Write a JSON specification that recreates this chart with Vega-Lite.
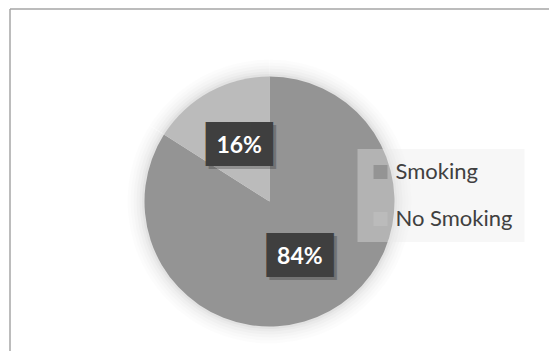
{
  "$schema": "https://vega.github.io/schema/vega-lite/v6.json",
  "width": 520,
  "height": 386,
  "autosize": {"type": "none"},
  "padding": {"left": 9.5, "top": 8.5, "right": 25, "bottom": 0},
  "background": "white",
  "config": {
    "view": {"stroke": "transparent", "strokeWidth": 0},
    "axis": {"domainColor": "#a6a6a6", "domainWidth": 1.5, "ticks": false, "labels": false, "grid": false, "title": null}
  },
  "data": {
    "values": [
      {"category": "Smoking", "share": 0.84, "ord": 1},
      {"category": "No Smoking", "share": 0.16, "ord": 2}
    ]
  },
  "layer": [
    {
      "mark": {"type": "point", "opacity": 0},
      "encoding": {
        "x": {"datum": 0, "type": "quantitative", "scale": {"domain": [0, 1], "range": [0, 545]}, "axis": {"orient": "top"}},
        "y": {"datum": 0, "type": "quantitative", "scale": {"domain": [0, 1]}, "axis": {"orient": "left"}}
      }
    },
    {
      "encoding": {
        "theta": {"field": "share", "type": "quantitative", "stack": true},
        "order": {"field": "ord", "type": "quantitative"}
      },
      "layer": [
        {"mark": {"type": "arc", "outerRadius": 142, "fill": "#000", "opacity": 0.01}},
        {"mark": {"type": "arc", "outerRadius": 139, "fill": "#000", "opacity": 0.012}},
        {"mark": {"type": "arc", "outerRadius": 136, "fill": "#000", "opacity": 0.015}},
        {"mark": {"type": "arc", "outerRadius": 133, "fill": "#000", "opacity": 0.02}},
        {"mark": {"type": "arc", "outerRadius": 130, "fill": "#000", "opacity": 0.025}},
        {"mark": {"type": "arc", "outerRadius": 127.5, "fill": "#000", "opacity": 0.03}},
        {
          "mark": {"type": "arc", "outerRadius": 125},
          "encoding": {
            "color": {
              "field": "category",
              "type": "nominal",
              "scale": {"domain": ["Smoking", "No Smoking"], "range": ["#949494", "#bbbbbb"]},
              "legend": {
                "title": null,
                "orient": "none",
                "legendX": 348,
                "legendY": 140.5,
                "labelFont": "Lato",
                "labelFontSize": 22,
                "labelColor": "#404040",
                "symbolType": "square",
                "symbolSize": 196,
                "symbolStrokeWidth": 0,
                "symbolOpacity": 1,
                "padding": 12,
                "rowPadding": 25,
                "labelOffset": 4,
                "fillColor": "rgba(234,234,234,0.37)"
              }
            }
          }
        },
        {
          "mark": {"type": "text", "radius": 63, "font": "DejaVu Sans Mono", "fontSize": 37, "baseline": "middle", "align": "center", "fill": "#000", "opacity": 0.22, "dx": 3, "dy": 3},
          "encoding": {"text": {"value": "███"}}
        },
        {
          "mark": {"type": "text", "radius": 63, "font": "DejaVu Sans Mono", "fontSize": 37, "baseline": "middle", "align": "center", "fill": "#3f3f3f"},
          "encoding": {"text": {"value": "███"}}
        },
        {
          "mark": {"type": "text", "radius": 63, "font": "Lato", "fontSize": 23, "fontWeight": "bold", "baseline": "middle", "align": "center", "fill": "white"},
          "encoding": {"text": {"field": "share", "type": "quantitative", "format": ".0%"}}
        }
      ]
    }
  ]
}
